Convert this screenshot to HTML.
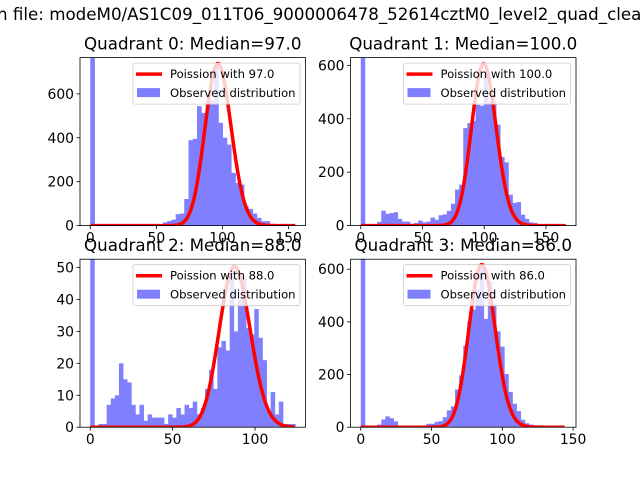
<!DOCTYPE html>
<html><head><meta charset="utf-8"><style>
body{margin:0;background:#fff}
svg{display:block;font-family:"DejaVu Sans","Liberation Sans",sans-serif}
</style></head><body>
<svg id="fig" width="640" height="480" viewBox="0 0 640 480" xmlns="http://www.w3.org/2000/svg">
<rect width="640" height="480" fill="#fff"/>
<text x="-3" y="20" font-size="16.7">n file: modeM0/AS1C09_011T06_9000006478_52614cztM0_level2_quad_clean</text>
</svg>
<script>
const medians = [97.0, 100.0, 88.0, 86.0];
const dataMax = [155, 166, 124.4, 144.8];
const yMax = [765, 629, 52.6, 638];
const poissonPeak = [738, 605, 50.3, 617];
const yTicks0 = [0, 200, 400, 600];
const yTicks1 = [0, 200, 400, 600];
const yTicks2 = [0, 10, 20, 30, 40, 50];
const yTicks3 = [0, 200, 400, 600];
const xTicks0 = [0, 50, 100, 150];
const xTicks1 = [0, 50, 100, 150];
const xTicks2 = [0, 50, 100];
const xTicks3 = [0, 50, 100, 150];
const counts0 = [5000,0,0,0,0,0,0,0,0,0,0,0,0,0,0,0,0,15,21,27,52,55,121,389,395,544,513,556,570,729,468,400,369,240,194,187,88,76,55,35,20,20,6,3,2,1,1,0];
const counts1 = [5000,1,0,2,14,56,44,47,50,25,15,15,7,10,19,12,15,30,22,39,42,55,82,135,153,365,384,392,452,449,564,465,465,378,257,237,116,85,88,41,25,12,10,3,3,2,2,1,1,1];
const counts2 = [500,0,1,1,7,9,10,20,15,14,7,4,7,2,4,3,3,3,1,4,3,6,4,7,6,8,4,6,12,18,12,25,27,24,49,30,40,47,31,29,37,28,21,5,11,4,8,1,1,1];
const counts3 = [5000,0,0,0,10,29,41,34,22,2,1,1,1,1,2,2,13,13,20,23,38,64,79,143,197,309,402,447,523,615,411,555,466,364,306,202,134,89,61,28,15,10,6,1,1,1,1,1,1,1];

const allCounts=[counts0,counts1,counts2,counts3];
const allYT=[yTicks0,yTicks1,yTicks2,yTicks3];
const allXT=[xTicks0,xTicks1,xTicks2,xTicks3];
const NS="http://www.w3.org/2000/svg";
const svg=document.getElementById('fig');
function mk(tag,attrs,parent){const e=document.createElementNS(NS,tag);for(const k in attrs)e.setAttribute(k,attrs[k]);(parent||svg).appendChild(e);return e;}
function lgamma(n){let s=0;for(let i=2;i<=n;i++)s+=Math.log(i);return s;}
const boxes=[[80,57.6],[350.5,57.6],[80,259.2],[350.5,259.2]];
const W=225.5,H=168;
for(let q=0;q<4;q++){
  const [L,T]=boxes[q];const B=T+H,R=L+W;
  const mx=dataMax[q];const x0=-0.05*mx,x1=1.05*mx;
  const X=v=>L+(v-x0)/(x1-x0)*W;
  const Y=v=>B-v/yMax[q]*H;
  const g=mk('g',{});
  
  
  const cp=mk('clipPath',{id:'cp'+q},g);mk('rect',{x:L,y:T,width:W,height:H},cp);
  const bars=mk('g',{'clip-path':'url(#cp'+q+')'},g);
  const c=allCounts[q];const bw=mx/c.length;
  c.forEach((v,i)=>{const y=Y(v);const r=mk('rect',{x:X(i*bw),y:y,width:X((i+1)*bw)-X(i*bw)+0.4,height:B-y,fill:'#8080ff'},bars);
    
    });
  const lam=medians[q];const pk=Math.exp(Math.floor(lam)*Math.log(lam)-lam-lgamma(Math.floor(lam)));
  let d='';for(let k=0;k<=Math.floor(mx);k++){const p=Math.exp(k*Math.log(lam)-lam-lgamma(k))/pk*poissonPeak[q];d+=(k?'L':'M')+X(k).toFixed(2)+','+Y(p).toFixed(2);}
  const pl=mk('path',{d:d,fill:'none',stroke:'#ff0000','stroke-width':3.5,'stroke-linejoin':'round'},bars);
  
  
  mk('rect',{x:L,y:T,width:W,height:H,fill:'none',stroke:'#000','stroke-width':0.8},g);
  allXT[q].forEach(t=>{const x=X(t);mk('line',{x1:x,x2:x,y1:B,y2:B+3.5,stroke:'#000','stroke-width':0.8},g);
    const tx=mk('text',{x:x,y:B+17,'font-size':13.9,'text-anchor':'middle'},g);tx.textContent=t;
    
    });
  allYT[q].forEach(t=>{const y=Y(t);mk('line',{x1:L-3.5,x2:L,y1:y,y2:y,stroke:'#000','stroke-width':0.8},g);
    const tx=mk('text',{x:L-6,y:y+5,'font-size':13.9,'text-anchor':'end'},g);tx.textContent=t;
    
    });
  const ti=mk('text',{x:L+W/2,y:T-8,'font-size':16.7,'text-anchor':'middle'},g);
  ti.textContent='Quadrant '+q+': Median='+medians[q].toFixed(1);
  
  
  const lg=mk('g',{},g);
  
  
  const lx=R-172.5,ly=T+5.5;
  mk('rect',{x:lx,y:ly,width:167,height:41,rx:2,fill:'#fff','fill-opacity':0.8,stroke:'#ccc','stroke-width':0.8},lg);
  mk('line',{x1:lx+3,x2:lx+29,y1:ly+11,y2:ly+11,stroke:'#ff0000','stroke-width':3.5},lg);
  mk('rect',{x:lx+4,y:ly+25,width:23,height:9,fill:'#8080ff'},lg);
  const t1=mk('text',{x:lx+37,y:ly+15,'font-size':11.6},lg);t1.textContent='Poission with '+medians[q].toFixed(1);
  
  
  const t2=mk('text',{x:lx+37,y:ly+34,'font-size':11.6},lg);t2.textContent='Observed distribution';
  
  
}
</script>
</body></html>
